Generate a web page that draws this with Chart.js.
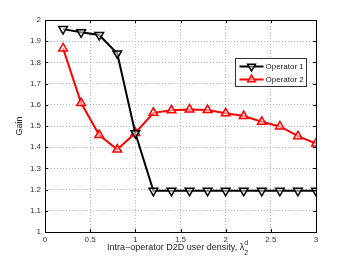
<!DOCTYPE html>
<html>
<head>
<meta charset="utf-8">
<script src="https://cdn.jsdelivr.net/npm/chart.js@4"></script>
<style>
  html, body { margin: 0; padding: 0; background: #fff; }
  #wrap { width: 349px; height: 262px; }
</style>
</head>
<body>
<div id="wrap"><canvas id="myChart" width="349" height="262"></canvas></div>
<script>
// density values on the x axis
const density = [0.2, 0.4, 0.6, 0.8, 1.0, 1.2, 1.4, 1.6, 1.8, 2.0, 2.2, 2.4, 2.6, 2.8, 3.0];
const operator1 = [1.957, 1.942, 1.929, 1.842, 1.466, 1.194, 1.194, 1.194, 1.194, 1.194, 1.194, 1.194, 1.194, 1.194, 1.194];
const operator2 = [1.866, 1.608, 1.457, 1.389, 1.467, 1.562, 1.574, 1.578, 1.575, 1.560, 1.547, 1.520, 1.498, 1.452, 1.417];
const xTicks = [0, 0.5, 1, 1.5, 2, 2.5, 3];
const yTicks = [1, 1.1, 1.2, 1.3, 1.4, 1.5, 1.6, 1.7, 1.8, 1.9, 2];
const seriesNames = ['Operator 1', 'Operator 2'];

const FONT = '"Liberation Sans", Arial, sans-serif';
const ctx = document.getElementById('myChart');

// frame, inward ticks, axis titles and legend
const decor = {
  id: 'decor',
  afterDraw(chart) {
    const c = chart.ctx;
    const a = chart.chartArea;
    const xs = chart.scales.x, ys = chart.scales.y;
    c.save();
    c.strokeStyle = '#000';
    c.lineWidth = 1;
    c.beginPath();
    xTicks.forEach(v => {
      const px = Math.round(xs.getPixelForValue(v)) + 0.5;
      c.moveTo(px, a.bottom); c.lineTo(px, a.bottom - 3);
      c.moveTo(px, a.top); c.lineTo(px, a.top + 3);
    });
    yTicks.forEach(v => {
      const py = Math.round(ys.getPixelForValue(v)) + 0.5;
      c.moveTo(a.left, py); c.lineTo(a.left + 3, py);
      c.moveTo(a.right, py); c.lineTo(a.right - 3, py);
    });
    c.stroke();
    c.strokeRect(Math.round(a.left) + 0.5, Math.round(a.top) + 0.5,
      Math.round(a.right - a.left), Math.round(a.bottom - a.top));

    // axis titles
    c.fillStyle = '#222';
    c.font = '9px ' + FONT;
    c.textBaseline = 'middle';
    c.textAlign = 'center';
    c.save();
    c.translate(20, (a.top + a.bottom) / 2);
    c.rotate(-Math.PI / 2);
    c.fillText('Gain', 0, 0);
    c.restore();

    const main = 'Intra\u2212operator D2D user density, \u03bb';
    c.textAlign = 'left';
    const w = c.measureText(main).width;
    const x0 = 107;
    const ty = 248;
    c.fillText(main, x0, ty);
    c.font = '7px ' + FONT;
    c.fillText('2', x0 + w, ty + 5);
    c.fillText('d', x0 + w, ty - 5);

    // legend
    const lx = 235.5, ly = 58.5, lw = 71, lh = 28;
    c.fillStyle = '#fff';
    c.fillRect(lx, ly, lw, lh);
    c.strokeStyle = '#333';
    c.lineWidth = 1;
    c.strokeRect(lx, ly, lw, lh);
    chart.data.datasets.forEach((ds, i) => {
      const yy = ly + 8 + i * 13;
      c.strokeStyle = ds.borderColor;
      c.lineWidth = 2;
      c.beginPath();
      c.moveTo(lx + 4, yy); c.lineTo(lx + 28, yy);
      c.stroke();
      c.fillStyle = 'rgba(255,255,255,0.5)';
      c.strokeStyle = ds.pointBorderColor;
      c.lineWidth = 1.5;
      Chart.helpers.drawPoint(c, {
        pointStyle: 'triangle', radius: 4.5, rotation: ds.pointRotation,
        borderWidth: 1.5
      }, lx + 16, yy);
      c.fillStyle = '#222';
      c.font = '8px ' + FONT;
      c.textAlign = 'left';
      c.fillText(ds.label, lx + 30, yy + 0.5);
    });
    c.restore();
  }
};

new Chart(ctx, {
  type: 'line',
  data: {
    labels: density,
    datasets: [
      {
        label: seriesNames[0],
        data: density.map((x, i) => ({ x: x, y: operator1[i] })),
        borderColor: '#000',
        borderWidth: 2,
        pointStyle: 'triangle',
        pointRotation: 180,
        pointRadius: 5,
        pointBorderWidth: 1.5,
        pointBackgroundColor: 'rgba(255,255,255,0.5)',
        pointBorderColor: '#000',
      },
      {
        label: seriesNames[1],
        data: density.map((x, i) => ({ x: x, y: operator2[i] })),
        borderColor: '#ff0000',
        borderWidth: 2,
        pointStyle: 'triangle',
        pointRotation: 0,
        pointRadius: 5,
        pointBorderWidth: 1.5,
        pointBackgroundColor: 'rgba(255,255,255,0.5)',
        pointBorderColor: '#ff0000',
      },
    ],
  },
  options: {
    responsive: false,
    animation: false,
    layout: { padding: { top: 20, right: 33, left: 0, bottom: 0 } },
    plugins: {
      legend: { display: false },
      tooltip: { enabled: false },
    },
    scales: {
      x: {
        type: 'linear',
        min: 0,
        max: 3,
        afterFit: (s) => { s.height = 30; },
        afterBuildTicks: (s) => { s.ticks = xTicks.map(v => ({ value: v })); },
        ticks: {
          padding: 3,
          color: '#333',
          font: { family: FONT, size: 8 },
          maxRotation: 0,
          callback: (v) => String(v),
        },
        grid: { color: '#bbb', drawTicks: false, lineWidth: 1 },
        border: { display: false, dash: [1, 2] },
      },
      y: {
        min: 1,
        max: 2,
        afterFit: (s) => { s.width = 45; },
        afterBuildTicks: (s) => { s.ticks = yTicks.map(v => ({ value: v })); },
        ticks: {
          padding: 4,
          color: '#333',
          font: { family: FONT, size: 8 },
          callback: (v) => String(Math.round(v * 10) / 10),
        },
        grid: { color: '#bbb', drawTicks: false, lineWidth: 1 },
        border: { display: false, dash: [1, 2] },
      },
    },
  },
  plugins: [decor],
});
</script>
</body>
</html>
